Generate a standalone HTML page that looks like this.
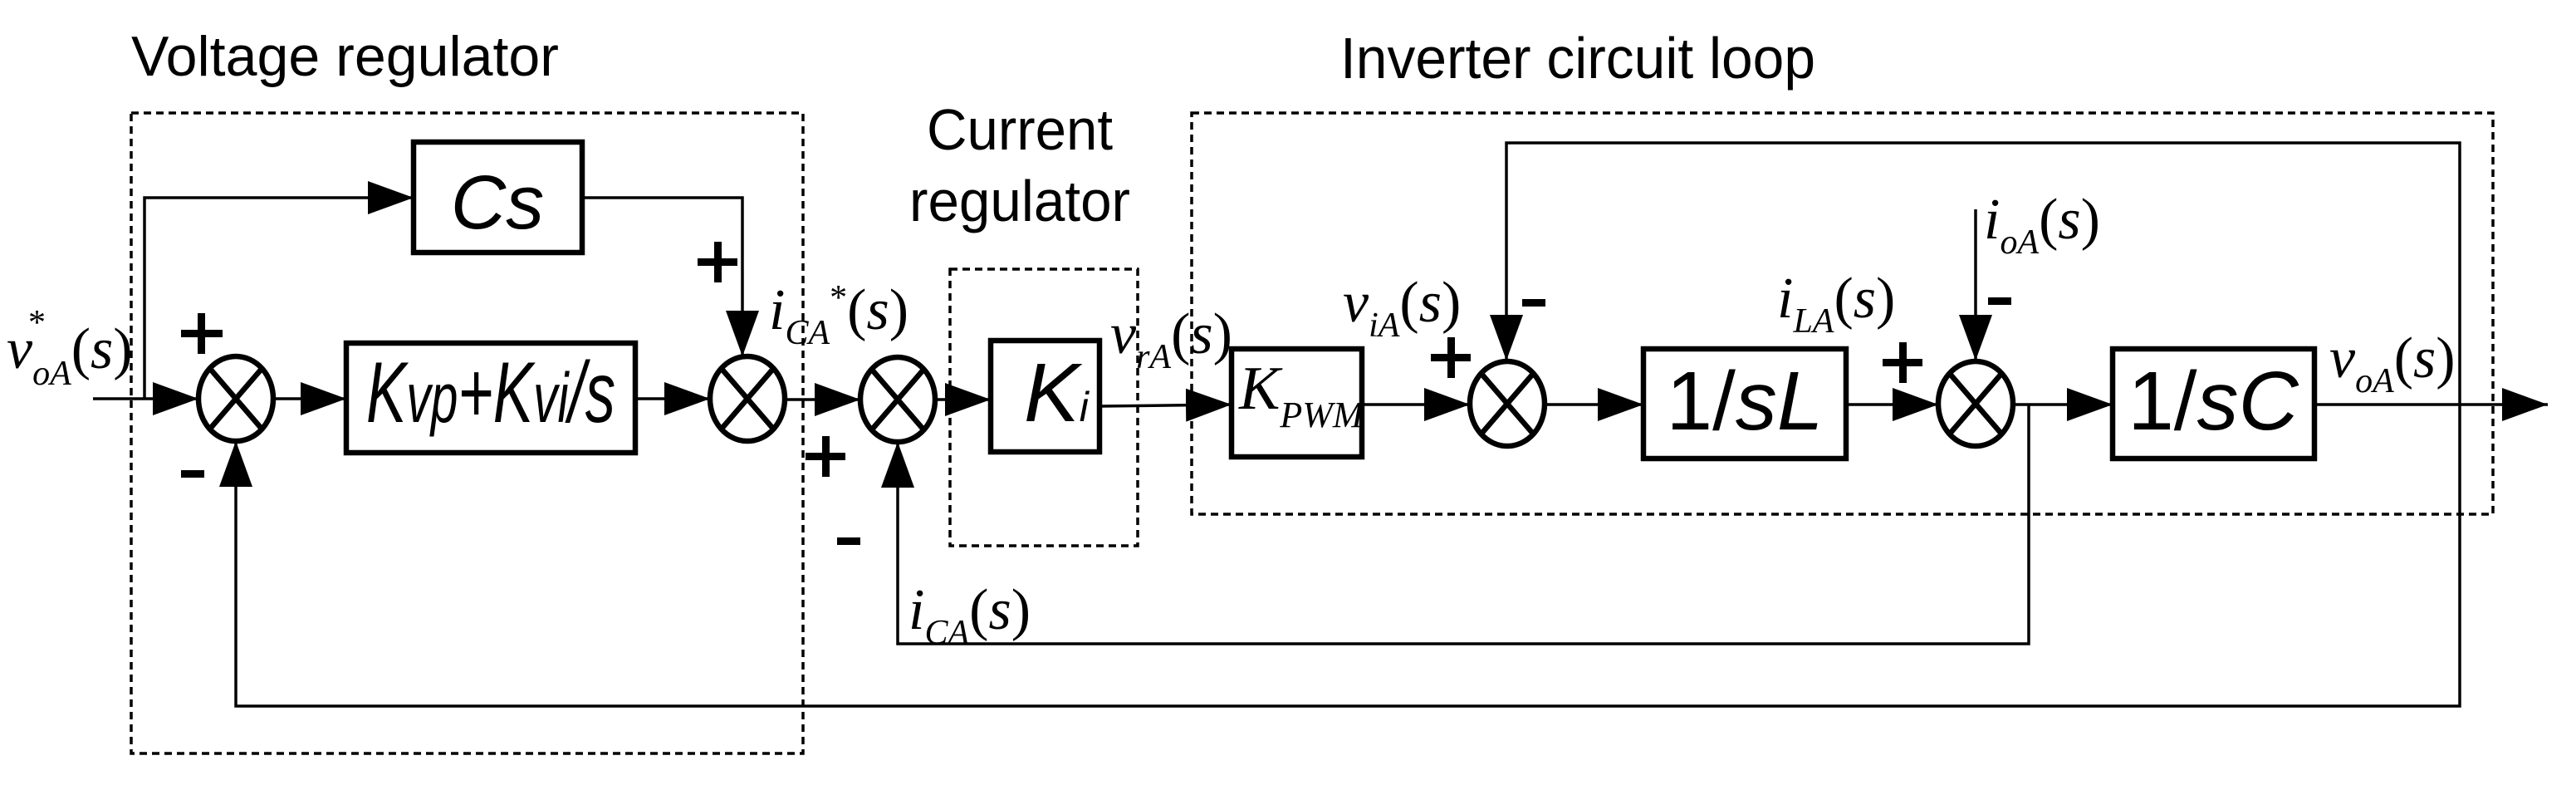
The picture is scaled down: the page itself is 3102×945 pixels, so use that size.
<!DOCTYPE html>
<html><head><meta charset="utf-8"><style>
html,body{margin:0;padding:0;background:#fff;}
svg{display:block;}
.t{font-family:"Liberation Sans",sans-serif;}
.m{font-family:"Liberation Serif",serif;}
</style></head><body>
<svg width="3102" height="945" viewBox="0 0 3102 945" xmlns="http://www.w3.org/2000/svg">
<defs>
<marker id="a" viewBox="0 0 55 40" refX="55" refY="20" markerWidth="55" markerHeight="40" markerUnits="userSpaceOnUse" orient="auto"><path d="M0,0 L55,20 L0,40 Z" fill="#000"/></marker>
</defs>
<g fill="none" stroke="#000">
<g stroke-width="3.5" stroke-dasharray="9,6">
<rect x="158" y="136" width="809" height="771"/>
<rect x="1144" y="324" width="226" height="333"/>
<rect x="1435" y="136" width="1567" height="483"/>
</g>
<g stroke-width="6.5">
<rect x="498" y="171" width="203" height="133"/>
<rect x="417" y="413" width="348" height="132"/>
<rect x="1193" y="410" width="131" height="134"/>
<rect x="1483" y="420" width="157" height="130"/>
<rect x="1979" y="420" width="244" height="132"/>
<rect x="2544" y="420" width="243" height="132"/>
</g>
<g stroke-width="6.5">
<g transform="translate(284,480)"><ellipse rx="45" ry="51"/><path d="M-31,-36 L31,36 M31,-36 L-31,36"/></g>
<g transform="translate(900,480)"><ellipse rx="45" ry="51"/><path d="M-31,-36 L31,36 M31,-36 L-31,36"/></g>
<g transform="translate(1081,481)"><ellipse rx="45" ry="51"/><path d="M-31,-36 L31,36 M31,-36 L-31,36"/></g>
<g transform="translate(1815,486)"><ellipse rx="45" ry="51"/><path d="M-31,-36 L31,36 M31,-36 L-31,36"/></g>
<g transform="translate(2379,486)"><ellipse rx="45" ry="51"/><path d="M-31,-36 L31,36 M31,-36 L-31,36"/></g>
</g>
<g stroke-width="3.5">
<path d="M112,480 L239,480" marker-end="url(#a)"/>
<path d="M174,480 L174,238 L498,238" marker-end="url(#a)"/>
<path d="M701,238 L894,238 L894,429" marker-end="url(#a)"/>
<path d="M329,480 L417,480" marker-end="url(#a)"/>
<path d="M765,480 L855,480" marker-end="url(#a)"/>
<path d="M945,481 L1036,481" marker-end="url(#a)"/>
<path d="M1126,481 L1193,481" marker-end="url(#a)"/>
<path d="M1324,489 L1483,487" marker-end="url(#a)"/>
<path d="M1640,487 L1770,487" marker-end="url(#a)"/>
<path d="M1860,487 L1979,487" marker-end="url(#a)"/>
<path d="M2223,487 L2334,487" marker-end="url(#a)"/>
<path d="M2424,487 L2544,487" marker-end="url(#a)"/>
<path d="M2787,487 L3068,487" marker-end="url(#a)"/>
<path d="M2962,487 L2962,172 L1814,172 L1814,434" marker-end="url(#a)"/>
<path d="M2379,252 L2379,434" marker-end="url(#a)"/>
<path d="M2443,487 L2443,775 L1081,775 L1081,532" marker-end="url(#a)"/>
<path d="M2962,487 L2962,850 L284,850 L284,531" marker-end="url(#a)"/>
</g>
</g>
<g fill="#000">
<rect x="218" y="397" width="50" height="9"/><rect x="238" y="377" width="9" height="49"/>
<rect x="218" y="566" width="28" height="9"/>
<rect x="840" y="311" width="48" height="9"/><rect x="860" y="291" width="9" height="49"/>
<rect x="970" y="545" width="48" height="9"/><rect x="990" y="525" width="9" height="49"/>
<rect x="1008" y="647" width="28" height="9"/>
<rect x="1723" y="426" width="48" height="9"/><rect x="1743" y="406" width="9" height="49"/>
<rect x="1833" y="360" width="28" height="9"/>
<rect x="2267" y="432" width="48" height="9"/><rect x="2287" y="412" width="9" height="49"/>
<rect x="2394" y="358" width="28" height="9"/>
</g>
<text class="t" x="158" y="91" font-size="68" textLength="515" lengthAdjust="spacingAndGlyphs">Voltage regulator</text>
<text class="t" x="1116" y="180" font-size="70" textLength="224" lengthAdjust="spacingAndGlyphs">Current</text>
<text class="t" x="1095" y="266" font-size="70" textLength="266" lengthAdjust="spacingAndGlyphs">regulator</text>
<text class="t" x="1614" y="94" font-size="70" textLength="572" lengthAdjust="spacingAndGlyphs">Inverter circuit loop</text>
<text class="t" x="599" y="275" font-size="92" font-style="italic" text-anchor="middle">Cs</text>
<text class="t" x="591" y="508" font-size="104" font-style="italic" text-anchor="middle" textLength="300" lengthAdjust="spacingAndGlyphs">K<tspan font-size="84">vp</tspan>+K<tspan font-size="84">vi</tspan>/s</text>
<text class="t" x="1233" y="507" font-size="100" font-style="italic">K<tspan font-size="50">i</tspan></text>
<text class="m" x="1492" y="492" font-size="74" font-style="italic">K<tspan font-size="44" dy="22">PWM</tspan></text>
<text class="t" x="2101" y="517" font-size="100" text-anchor="middle">1/<tspan font-style="italic">sL</tspan></text>
<text class="t" x="2665" y="517" font-size="100" text-anchor="middle">1/<tspan font-style="italic">sC</tspan></text>
<g class="m" font-size="70">
<text x="8" y="443"><tspan font-style="italic">v</tspan><tspan font-style="italic" font-size="42" dy="20">oA</tspan><tspan dy="-20">(</tspan><tspan font-style="italic">s</tspan>)</text>
<text x="34" y="402" font-size="42">*</text>
<text x="926" y="396"><tspan font-style="italic">i</tspan><tspan font-style="italic" font-size="42" dy="18">CA</tspan><tspan font-size="42" dy="-42">*</tspan><tspan dy="24">(</tspan><tspan font-style="italic">s</tspan>)</text>
<text x="1337" y="425"><tspan font-style="italic">v</tspan><tspan font-style="italic" font-size="42" dy="18">rA</tspan><tspan dy="-18">(</tspan><tspan font-style="italic">s</tspan>)</text>
<text x="1617" y="387"><tspan font-style="italic">v</tspan><tspan font-style="italic" font-size="42" dy="18">iA</tspan><tspan dy="-18">(</tspan><tspan font-style="italic">s</tspan>)</text>
<text x="2140" y="382"><tspan font-style="italic">i</tspan><tspan font-style="italic" font-size="42" dy="18">LA</tspan><tspan dy="-18">(</tspan><tspan font-style="italic">s</tspan>)</text>
<text x="2389" y="287"><tspan font-style="italic">i</tspan><tspan font-style="italic" font-size="42" dy="18">oA</tspan><tspan dy="-18">(</tspan><tspan font-style="italic">s</tspan>)</text>
<text x="2805" y="454"><tspan font-style="italic">v</tspan><tspan font-style="italic" font-size="42" dy="18">oA</tspan><tspan dy="-18">(</tspan><tspan font-style="italic">s</tspan>)</text>
<text x="1094" y="757"><tspan font-style="italic">i</tspan><tspan font-style="italic" font-size="42" dy="18">CA</tspan><tspan dy="-18">(</tspan><tspan font-style="italic">s</tspan>)</text>
</g>
</svg>
</body></html>
